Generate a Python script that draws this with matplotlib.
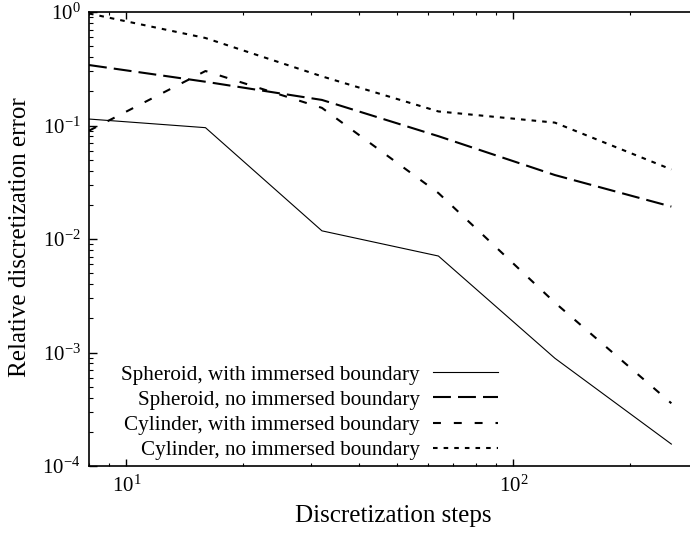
import matplotlib
matplotlib.use("Agg")
import matplotlib.pyplot as plt
from matplotlib.ticker import NullFormatter

# Discretization steps and relative errors
steps = [8, 16, 32, 64, 128, 256]

spheroid_ib = [0.114, 0.0957, 0.0118, 0.00708, 0.00089, 0.000156]
spheroid_no_ib = [0.341, 0.243, 0.168, 0.0805, 0.0366, 0.0193]
cylinder_ib = [0.090, 0.302, 0.143, 0.0254, 0.00275, 0.000357]
cylinder_no_ib = [0.97, 0.59, 0.271, 0.133, 0.106, 0.041]

labels = [
    "Spheroid, with immersed boundary",
    "Spheroid, no immersed boundary",
    "Cylinder, with immersed boundary",
    "Cylinder, no immersed boundary",
]

plt.rcParams.update(
    {
        "font.family": "Liberation Serif",
        "mathtext.fontset": "custom",
        "mathtext.rm": "Liberation Serif",
        "mathtext.it": "Liberation Serif:italic",
        "mathtext.bf": "Liberation Serif:bold",
        "axes.linewidth": 1.2,
        "xtick.direction": "in",
        "ytick.direction": "in",
        "xtick.top": True,
        "ytick.right": False,
        "xtick.major.size": 5,
        "xtick.minor.size": 2.5,
        "ytick.major.size": 5.5,
        "ytick.minor.size": 2.8,
        "xtick.major.width": 1.0,
        "xtick.minor.width": 0.8,
        "ytick.major.width": 1.0,
        "ytick.minor.width": 0.8,
    }
)

fig = plt.figure(figsize=(6.9, 5.33), dpi=100)
# the plot box runs slightly past the right edge, as in the cropped original
ax = fig.add_axes([89 / 690, 67 / 533, (698 - 89) / 690, (466 - 12) / 533])

ax.plot(steps, spheroid_ib, color="black", linewidth=0.8, label=labels[0])
ax.plot(steps, spheroid_no_ib, color="black", linewidth=1.5,
        linestyle=(0, (8.6, 3.4)), label=labels[1])
ax.plot(steps, cylinder_ib, color="black", linewidth=1.5,
        linestyle=(0, (3.8, 6.2)), label=labels[2])
ax.plot(steps, cylinder_no_ib, color="black", linewidth=1.5,
        linestyle=(0, (2.2, 2.9)), label=labels[3])

ax.set_xscale("log")
ax.set_yscale("log")
ax.set_xlim(8, 300)
ax.set_ylim(1e-4, 1)
ax.xaxis.set_minor_formatter(NullFormatter())
ax.yaxis.set_minor_formatter(NullFormatter())
ax.tick_params(axis="x", which="both", labelsize=15, pad=7)
ax.tick_params(axis="y", which="both", labelsize=15, pad=6)
ax.spines["right"].set_visible(False)

ax.set_xlabel("Discretization steps", fontsize=18)
ax.set_ylabel("Relative discretization error", fontsize=18)
ax.xaxis.set_label_coords(0.5, -0.086)
ax.yaxis.set_label_coords(-0.113, 0.505)
ax.yaxis.label.set_va("center")

ax.legend(
    loc="lower right",
    bbox_to_anchor=(498 / 690, 73 / 533),
    bbox_transform=fig.transFigure,
    frameon=False,
    markerfirst=False,
    fontsize=15.2,
    handlelength=3.1,
    handletextpad=0.6,
    labelspacing=0.25,
    borderpad=0,
    borderaxespad=0,
)

fig.savefig("out.png", dpi=100)
